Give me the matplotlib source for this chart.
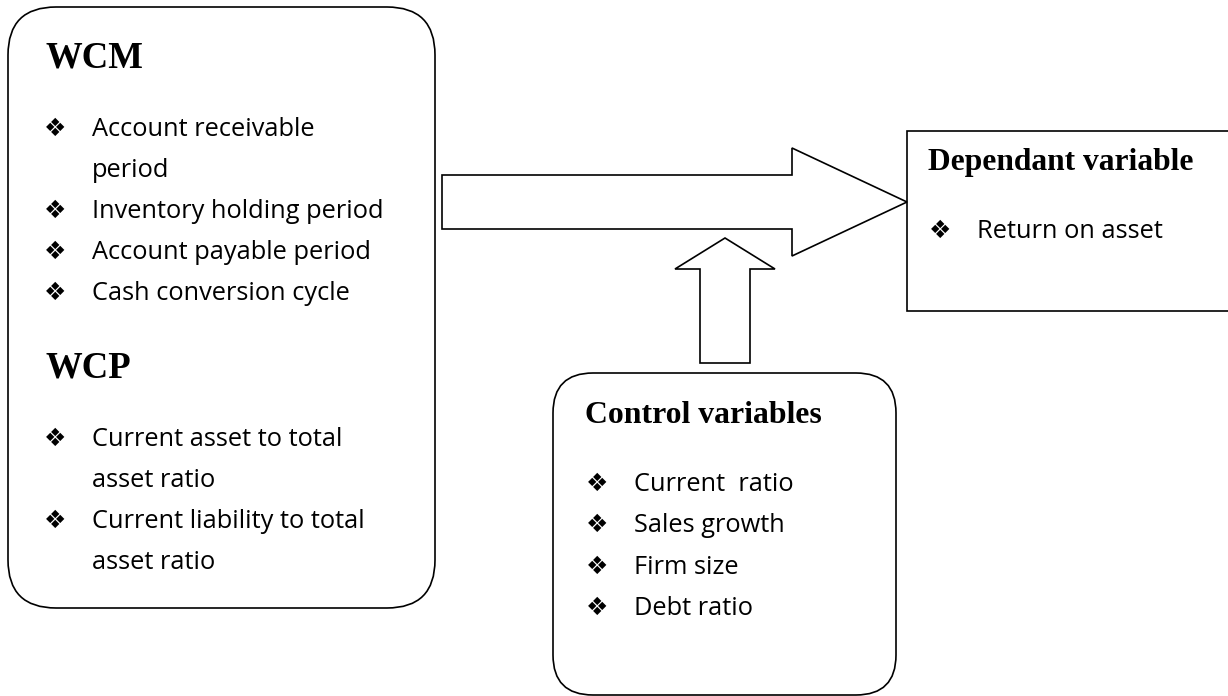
import matplotlib.pyplot as plt
from matplotlib.patches import FancyBboxPatch, Rectangle, Polygon

# box contents
wcm_title = "WCM"
wcm_items = ["Account receivable\nperiod", "Inventory holding period",
             "Account payable period", "Cash conversion cycle"]
wcp_title = "WCP"
wcp_items = ["Current asset to total\nasset ratio",
             "Current liability to total\nasset ratio"]
dep_title = "Dependant variable"
dep_items = ["Return on asset"]
ctrl_title = "Control variables"
ctrl_items = ["Current  ratio", "Sales growth", "Firm size", "Debt ratio"]

BULLET = "\u2756"
body_font = ['Open Sans', 'DejaVu Sans']
head_font = 'Liberation Serif'
LW = 1.2

fig = plt.figure(figsize=(12.28, 6.96), dpi=100)
ax = fig.add_axes([0, 0, 1, 1])
ax.set_xlim(0, 1228)
ax.set_ylim(696, 0)
ax.axis('off')


def items(lines, x, y0, step, fs=18.3):
    # each item may wrap to a second line
    y = y0
    for item in lines:
        parts = item.split("\n")
        ax.text(x - 1, y, BULLET, family=['DejaVu Sans'], fontsize=18, va='baseline', ha='left')
        for p in parts:
            ax.text(x + 47, y, p, family=body_font, fontsize=fs, va='baseline', ha='left')
            y += step
    return y


# left box
ax.add_patch(FancyBboxPatch((8, 7), 427, 601, boxstyle="round,pad=0,rounding_size=48",
                            fc='white', ec='black', lw=LW))
ax.text(45, 67, wcm_title, family=head_font, weight='bold', fontsize=26.5, va='baseline')
items(wcm_items, 45, 136, 41)
ax.text(45, 377, wcp_title, family=head_font, weight='bold', fontsize=26.5, va='baseline')
items(wcp_items, 45, 446, 41)

# right box (runs off the right edge)
ax.add_patch(Rectangle((907, 131), 340, 180, fc='white', ec='black', lw=LW, clip_on=True))
ax.text(928, 170, dep_title, family=head_font, weight='bold', fontsize=22.7, va='baseline')
items(dep_items, 930, 238, 41)

# control box
ax.add_patch(FancyBboxPatch((553, 373), 343, 322, boxstyle="round,pad=0,rounding_size=40",
                            fc='white', ec='black', lw=LW, clip_on=True))
ax.text(585, 423, ctrl_title, family=head_font, weight='bold', fontsize=22.9, va='baseline')
items(ctrl_items, 587, 491, 41.3)

# big right arrow
ax.add_patch(Polygon([(442, 175), (792, 175), (792, 148), (907, 202), (792, 256),
                      (792, 229), (442, 229)], closed=True, fc='white', ec='black', lw=LW))
# up arrow
ax.add_patch(Polygon([(700, 363), (700, 269), (675, 269), (725, 238), (775, 269),
                      (750, 269), (750, 363)], closed=True, fc='white', ec='black', lw=LW))

fig.savefig("out.png", dpi=100, facecolor='white')
